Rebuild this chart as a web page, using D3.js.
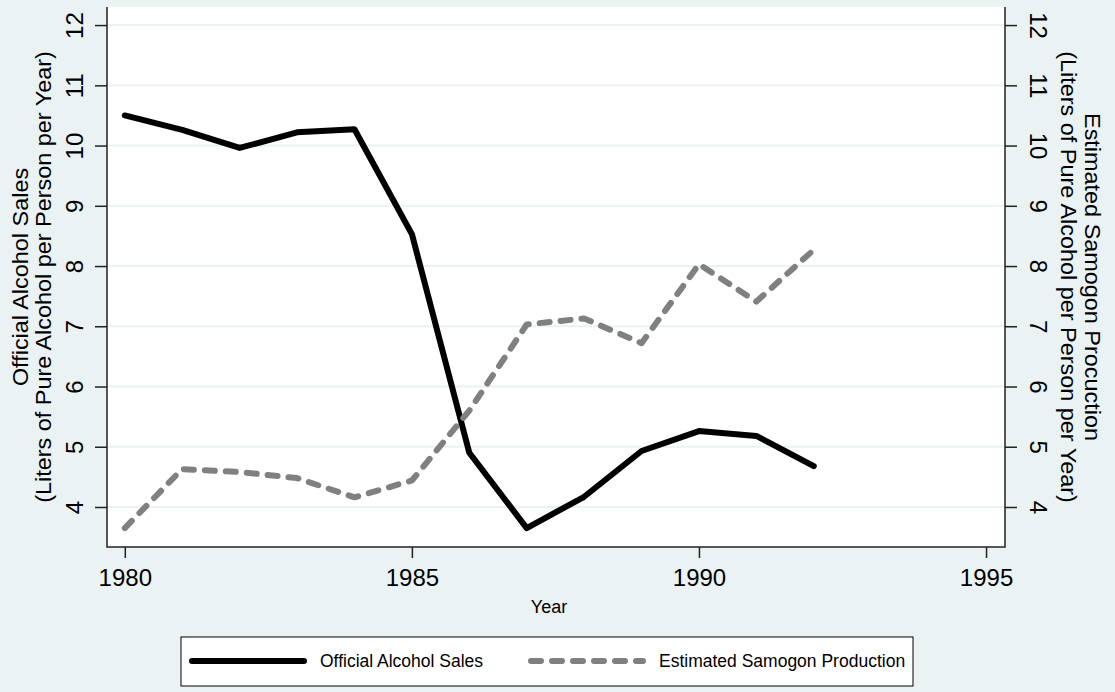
<!DOCTYPE html>
<html>
<head>
<meta charset="utf-8">
<script src="https://cdn.jsdelivr.net/npm/d3@7"></script>
<style>
  body { margin: 0; background: #eaf2f3; }
  svg { display: block; font-family: "Liberation Sans", Arial, sans-serif; }
</style>
</head>
<body>
<svg width="1115" height="692"></svg>
<script>
(function (d3) {
  'use strict'

  const years = [1980, 1981, 1982, 1983, 1984, 1985, 1986, 1987, 1988, 1989, 1990, 1991, 1992]
  const officialSales = [10.5, 10.26, 9.96, 10.22, 10.27, 8.53, 4.9, 3.65, 4.17, 4.93, 5.26, 5.18, 4.68]
  const samogonProduction = [3.65, 4.63, 4.58, 4.48, 4.16, 4.44, 5.6, 7.03, 7.13, 6.72, 8.03, 7.41, 8.27]
  const xTicks = [1980, 1985, 1990, 1995]
  const yTicks = [4, 5, 6, 7, 8, 9, 10, 11, 12]

  const left = 107, right = 1005, top = 7, bottom = 547

  const x = d3.scaleLinear().domain([1979.69, 1995.33]).range([left, right])
  // both y axes share the same range
  const y = d3.scaleLinear().domain([3.336, 12.3]).range([bottom, top])

  const svg = d3.select('svg')

  svg.append('rect').
    attr('width', 1115).attr('height', 692).attr('fill', '#eaf2f3')

  svg.append('rect').
    attr('x', left).attr('y', top).
    attr('width', right - left).attr('height', bottom - top).
    attr('fill', '#ffffff')

  // horizontal grid
  svg.append('g').
    selectAll('line').
    data(yTicks).
    enter().
    append('line').
    attr('x1', left).attr('x2', right).
    attr('y1', function (d) { return y(d) }).
    attr('y2', function (d) { return y(d) }).
    attr('stroke', '#eaf2f3').
    attr('stroke-width', 2)

  // axes
  const axisColor = '#222'
  const leftAxis = svg.append('g').
    attr('transform', 'translate(' + left + ',0)').
    call(d3.axisLeft(y).tickValues(yTicks).tickSize(12).tickFormat(d3.format('d')))
  const rightAxis = svg.append('g').
    attr('transform', 'translate(' + right + ',0)').
    call(d3.axisRight(y).tickValues(yTicks).tickSize(12).tickFormat(d3.format('d')))
  const bottomAxis = svg.append('g').
    attr('transform', 'translate(0,' + bottom + ')').
    call(d3.axisBottom(x).tickValues(xTicks).tickSize(11).tickFormat(d3.format('d')))

  ;[leftAxis, rightAxis, bottomAxis].forEach(function (g) {
    g.select('.domain').remove()
    g.selectAll('.tick line').attr('stroke', axisColor).attr('stroke-width', 1.5)
    g.selectAll('.tick text').
      attr('fill', '#000').
      attr('font-size', 24).
      attr('font-family', '"Liberation Sans", Arial, sans-serif')
  })

  // rotated y tick labels
  leftAxis.selectAll('.tick text').
    attr('x', null).attr('dy', null).
    attr('text-anchor', 'middle').
    attr('dominant-baseline', 'central').
    attr('transform', 'translate(-33,0) rotate(-90)')
  rightAxis.selectAll('.tick text').
    attr('x', null).attr('dy', null).
    attr('text-anchor', 'middle').
    attr('dominant-baseline', 'central').
    attr('transform', 'translate(33,0) rotate(90)')
  bottomAxis.selectAll('.tick text').
    attr('dy', null).attr('y', 39)

  // axis lines
  svg.append('path').
    attr('d', 'M' + left + ',' + top + 'V' + bottom + 'H' + right + 'V' + top).
    attr('fill', 'none').
    attr('stroke', axisColor).
    attr('stroke-width', 1.5)

  const line = d3.line().
    x(function (d) { return x(d[0]) }).
    y(function (d) { return y(d[1]) })

  svg.append('path').
    datum(d3.zip(years, officialSales)).
    attr('d', line).
    attr('fill', 'none').
    attr('stroke', '#000').
    attr('stroke-width', 6).
    attr('stroke-linejoin', 'round').
    attr('stroke-linecap', 'round')

  svg.append('path').
    datum(d3.zip(years, samogonProduction)).
    attr('d', line).
    attr('fill', 'none').
    attr('stroke', '#808080').
    attr('stroke-width', 6).
    attr('stroke-dasharray', '10,11').
    attr('stroke-linejoin', 'round').
    attr('stroke-linecap', 'round')

  // titles
  svg.append('text').
    attr('x', 549).attr('y', 613).
    attr('text-anchor', 'middle').
    attr('font-size', 18).
    text('Year')

  const midY = (top + bottom) / 2

  // y titles: two lines centred on the plot, a little stretched lengthwise
  const yTitles = [
    { text: 'Official Alcohol Sales', x: 28, angle: -90 },
    { text: '(Liters of Pure Alcohol per Person per Year)', x: 51, angle: -90 },
    { text: 'Estimated Samogon Procuction', x: 1085, angle: 90 },
    { text: '(Liters of Pure Alcohol per Person per Year)', x: 1061, angle: 90 }]

  svg.append('g').
    selectAll('text').
    data(yTitles).
    enter().
    append('text').
    attr('transform', function (d) {
      return 'translate(' + d.x + ',' + midY + ') rotate(' + d.angle + ') scale(1.09,1)'
    }).
    attr('text-anchor', 'middle').
    attr('font-size', 21.5).
    text(function (d) { return d.text })

  // legend
  const legend = svg.append('g').attr('class', 'legend')
  legend.append('rect').
    attr('x', 181).attr('y', 637).
    attr('width', 732).attr('height', 49).
    attr('fill', '#fff').
    attr('stroke', '#000').
    attr('stroke-width', 1)

  const legendItems = [
    { label: 'Official Alcohol Sales', color: '#000', dash: null, x: 192 },
    { label: 'Estimated Samogon Production', color: '#808080', dash: '10,11', x: 531 }]

  legend.selectAll('line').
    data(legendItems).
    enter().
    append('line').
    attr('x1', function (d) { return d.x }).
    attr('x2', function (d) { return d.x + 112 }).
    attr('y1', 661).attr('y2', 661).
    attr('stroke', function (d) { return d.color }).
    attr('stroke-width', 6).
    attr('stroke-linecap', 'round').
    attr('stroke-dasharray', function (d) { return d.dash })

  legend.selectAll('text').
    data(legendItems).
    enter().
    append('text').
    attr('x', function (d) { return d.x + 128 }).
    attr('y', 667).
    attr('font-size', 17.5).
    text(function (d) { return d.label })
}(d3))
</script>
</body>
</html>
